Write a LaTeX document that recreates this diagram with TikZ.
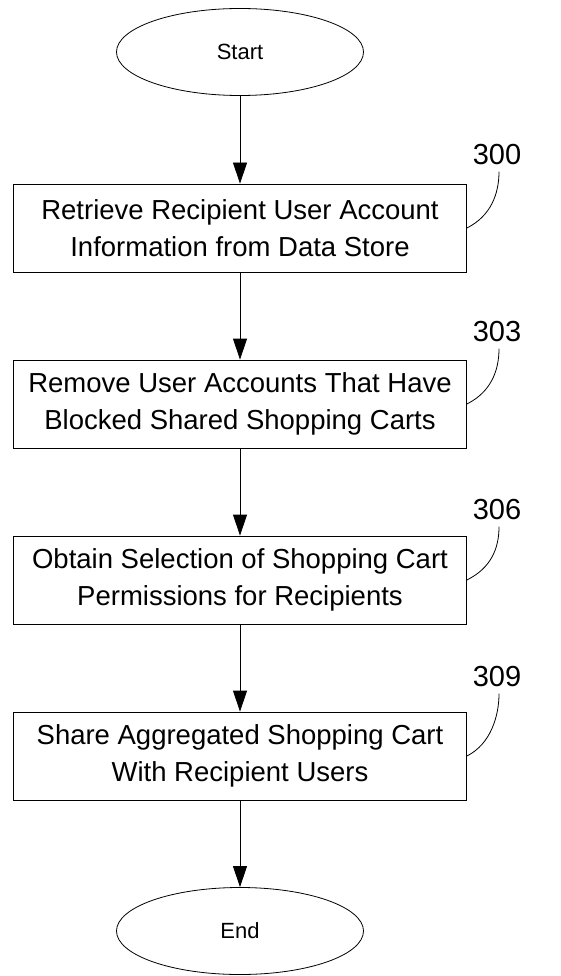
\documentclass[tikz,border=0pt]{standalone}
\usepackage{fontspec}
\setmainfont{Liberation Sans}
\usetikzlibrary{arrows.meta,shapes.geometric}
\begin{document}
\begin{tikzpicture}[x=1pt,y=-1pt,line width=0.8pt,
    stepbox/.style={draw,minimum width=453pt,minimum height=88pt,align=center,
        font=\fontsize{27.5}{37}\selectfont},
    term/.style={draw,ellipse,minimum width=247pt,minimum height=87pt,
        font=\fontsize{22}{26}\selectfont},
    ref/.style={font=\fontsize{29}{32}\selectfont,inner sep=1pt},
    flow/.style={-{Triangle[length=21pt,width=14pt]}}]
                    \useasboundingbox (0,0) rectangle (560,976);

                    \node[term] (start) at (240,52) {Start};
                    \node[stepbox] (s300) at (240,228) {Retrieve Recipient User Account\\Information from Data Store};
                    \node[stepbox] (s303) at (240,404) {Remove User Accounts That Have\\Blocked Shared Shopping Carts};
                    \node[stepbox] (s306) at (240,580) {Obtain Selection of Shopping Cart\\Permissions for Recipients};
                    \node[stepbox] (s309) at (240,756) {Share Aggregated Shopping Cart\\With Recipient Users};
                    \node[term] (end) at (240,931) {End};

                    \draw[flow] (start) -- (s300);
                    \draw[flow] (s300) -- (s303);
                    \draw[flow] (s303) -- (s306);
                    \draw[flow] (s306) -- (s309);
                    \draw[flow] (s309) -- (end);

                    \node[ref] (r300) at (497,155) {300};
                    \node[ref] (r303) at (497,332) {303};
                    \node[ref] (r306) at (497,510) {306};
                    \node[ref] (r309) at (497,677) {309};

                    \draw (s300.east) .. controls +(24,-12) and +(0,22) .. ([yshift=-5pt,xshift=2pt]r300.south);
                    \draw (s303.east) .. controls +(24,-12) and +(0,22) .. ([yshift=-5pt,xshift=2pt]r303.south);
                    \draw (s306.east) .. controls +(24,-12) and +(0,22) .. ([yshift=-5pt,xshift=2pt]r306.south);
                    \draw (s309.east) .. controls +(24,-12) and +(0,22) .. ([yshift=-5pt,xshift=2pt]r309.south);
                \end{tikzpicture}
\end{document}
